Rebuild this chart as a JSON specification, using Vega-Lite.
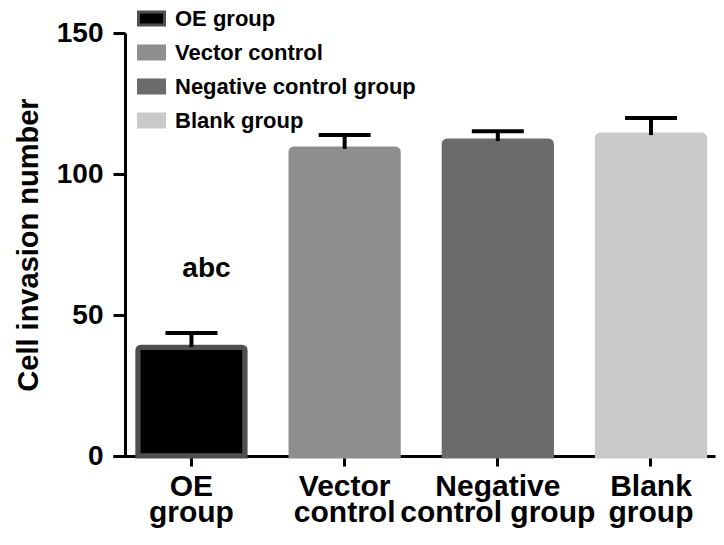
{
  "$schema": "https://vega.github.io/schema/vega-lite/v6.json",
  "autosize": {"type": "none"},
  "padding": {"left": 113, "top": 33, "right": 9, "bottom": 89},
  "width": 602,
  "height": 423,
  "background": "white",
  "config": {
    "font": "Liberation Sans",
    "view": {"stroke": null}
  },
  "data": {
    "values": [
      {"group": "OE group", "value": 38.6, "upper": 43.6, "note": "abc"},
      {"group": "Vector control", "value": 108.9, "upper": 113.8, "note": ""},
      {"group": "Negative control group", "value": 111.7, "upper": 115.2, "note": ""},
      {"group": "Blank group", "value": 113.8, "upper": 119.9, "note": ""}
    ]
  },
  "encoding": {
    "x": {
      "field": "group",
      "type": "nominal",
      "sort": null,
      "scale": {"paddingInner": 0.3, "paddingOuter": 0.115, "align": 0.705},
      "axis": {
        "title": null,
        "labelAngle": 0,
        "labelFontSize": 30,
        "labelFontWeight": "bold",
        "labelColor": "black",
        "labelLineHeight": 26,
        "labelPadding": 5,
        "labelLimit": 0,
        "labelOverlap": false,
        "labelExpr": "[slice(datum.label, 0, indexof(datum.label, ' ')), slice(datum.label, indexof(datum.label, ' ') + 1)]",
        "tickSize": 10,
        "tickWidth": 3,
        "tickColor": "black",
        "domainWidth": 3,
        "domainColor": "black"
      }
    }
  },
  "layer": [
    {
      "mark": {"type": "bar", "strokeWidth": 5, "cornerRadiusTopLeft": 3, "cornerRadiusTopRight": 3},
      "encoding": {
        "y": {
          "field": "value",
          "type": "quantitative",
          "scale": {"domain": [0, 150], "nice": false},
          "axis": {
            "title": "Cell invasion number",
            "titleFontSize": 29,
            "titleFontWeight": "bold",
            "titleColor": "black",
            "titlePadding": 13,
            "values": [0, 50, 100, 150],
            "grid": false,
            "offset": -12,
            "labelFontSize": 28,
            "labelFontWeight": "bold",
            "labelColor": "black",
            "labelPadding": 10,
            "tickSize": 12,
            "tickWidth": 3,
            "tickColor": "black",
            "domainWidth": 3,
            "domainColor": "black"
          }
        },
        "fill": {
          "field": "group",
          "type": "nominal",
          "sort": null,
          "scale": {"range": ["#000000", "#8e8e8e", "#6b6b6b", "#c9c9c9"]},
          "legend": {
            "title": null,
            "orient": "none",
            "legendX": 24,
            "legendY": -29,
            "padding": 0,
            "symbolType": "M-1,-0.5H1V0.5H-1Z",
            "symbolSize": 676,
            "symbolStrokeWidth": 3,
            "labelFontSize": 22,
            "labelFontWeight": "bold",
            "labelColor": "black",
            "labelLimit": 0,
            "labelOffset": 9,
            "rowPadding": 7
          }
        },
        "stroke": {
          "field": "group",
          "type": "nominal",
          "sort": null,
          "scale": {"range": ["#4f4f4f", "#8e8e8e", "#6b6b6b", "#c9c9c9"]},
          "legend": null
        }
      }
    },
    {
      "mark": {"type": "rule", "strokeWidth": 4, "color": "black"},
      "encoding": {
        "y": {"field": "value", "type": "quantitative"},
        "y2": {"field": "upper"}
      }
    },
    {
      "mark": {"type": "tick", "size": 52, "thickness": 4, "color": "black", "opacity": 1},
      "encoding": {
        "y": {"field": "upper", "type": "quantitative"}
      }
    },
    {
      "transform": [{"filter": "datum.note != ''"}],
      "mark": {"type": "text", "fontSize": 28, "fontWeight": "bold", "color": "black", "baseline": "alphabetic", "dx": 15, "dy": -56},
      "encoding": {
        "y": {"field": "upper", "type": "quantitative"},
        "text": {"field": "note"}
      }
    }
  ]
}
